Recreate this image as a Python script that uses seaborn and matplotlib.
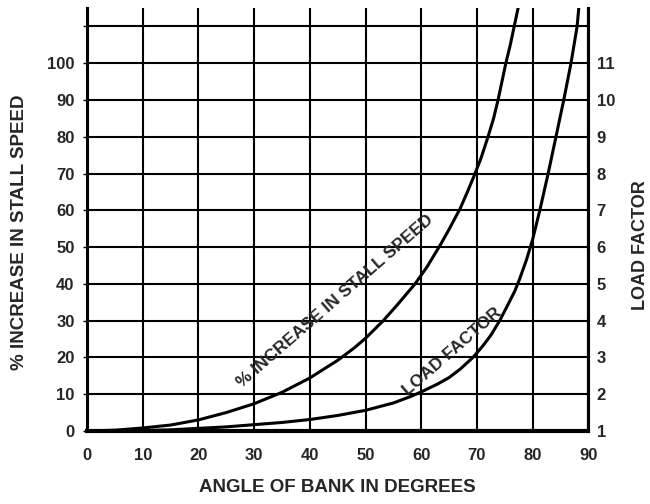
import matplotlib
matplotlib.use('Agg')
import matplotlib.pyplot as plt
import seaborn as sns

# values
angle_stall = [0, 5, 10, 15, 20, 25, 30, 35, 40, 45, 48, 50, 52, 53.2, 56, 58.9, 61,
               63.4, 65, 67, 68.3, 69.4, 70.7, 72, 73, 73.8, 74.5, 75.2, 76, 76.7, 77.4]
stall_increase = [0, 0.2, 0.8, 1.6, 3, 5, 7.4, 10.5, 14.4, 19.2, 22.6, 25.2, 28.2, 30, 34.8,
                  40, 44.5, 50.5, 54.8, 60.5, 65, 69, 74, 80, 85, 90, 95, 100, 105, 110, 115]

angle_lf = [0, 10, 15, 20, 25, 30, 35, 40, 45, 50, 55, 58, 60, 63, 65, 67, 69.3, 71,
            72.5, 74.1, 75.8, 76.8, 77.6, 78.9, 80, 81.3, 82.8, 84.2, 85.6, 86.9, 88, 88.3]
load_factor = [1, 1.01, 1.03, 1.07, 1.11, 1.17, 1.23, 1.31, 1.42, 1.56, 1.76, 1.93, 2.06,
               2.28, 2.45, 2.68, 3.0, 3.3, 3.6, 4.0, 4.5, 4.8, 5.1, 5.65, 6.2, 7.0, 8.0,
               9.0, 10.0, 11.0, 12.0, 12.5]

x_ticks = list(range(0, 91, 10))
stall_ticks = list(range(0, 111, 10))
stall_labels = [str(v) for v in range(0, 101, 10)] + ['']
lf_ticks = list(range(1, 12))

sns.set_style('white')
plt.rcParams['font.family'] = ['Liberation Sans', 'DejaVu Sans']
plt.rcParams['font.weight'] = 'bold'
plt.rcParams['axes.labelweight'] = 'bold'

fig = plt.figure(figsize=(6.5, 5.04), dpi=100)
ax = fig.add_axes([0.134, 0.145, 0.771, 0.839])

sns.lineplot(x=angle_stall, y=stall_increase, ax=ax, color='black', linewidth=2.2,
             sort=False)
ax.set_xlim(0, 90)
ax.set_ylim(0, 115)
ax.set_xticks(x_ticks)
ax.set_yticks(stall_ticks)
ax.set_yticklabels(stall_labels)
ax.grid(True, color='black', linewidth=1.5)
ax.tick_params(axis='x', length=0, pad=12, labelsize=12)
ax.tick_params(axis='y', length=3, width=1, pad=6, labelsize=12, color='black')
ax.yaxis.get_major_ticks()[-1].tick1line.set_visible(False)
for side in ['left', 'bottom', 'right']:
    ax.spines[side].set_color('black')
    ax.spines[side].set_linewidth(2.2)
ax.spines['bottom'].set_linewidth(3)
ax.spines['top'].set_visible(False)

ax.set_xlabel('ANGLE OF BANK IN DEGREES', fontsize=13.5, labelpad=12)
ax.set_ylabel('% INCREASE IN STALL SPEED', fontsize=13.5)
ax.yaxis.set_label_coords(-0.118, 0.47)

ax2 = ax.twinx()
sns.lineplot(x=angle_lf, y=load_factor, ax=ax2, color='black', linewidth=2.2, sort=False)
ax2.set_ylim(1, 12.5)
ax2.set_yticks(lf_ticks)
ax2.tick_params(axis='y', length=0, pad=6, labelsize=12)
ax2.set_ylabel('LOAD FACTOR', fontsize=13)
ax2.yaxis.set_label_coords(1.088, 0.44)
for side in ['left', 'bottom', 'top']:
    ax2.spines[side].set_visible(False)
ax2.spines['right'].set_linewidth(2.2)
ax2.spines['right'].set_color('black')

ax.text(44.5, 35.3, '% INCREASE IN STALL SPEED', rotation=41, ha='center', va='center',
        fontsize=12.5)
ax.text(65.5, 21.5, 'LOAD FACTOR', rotation=41, ha='center', va='center', fontsize=12.5)

fig.savefig('out.png', dpi=100)
